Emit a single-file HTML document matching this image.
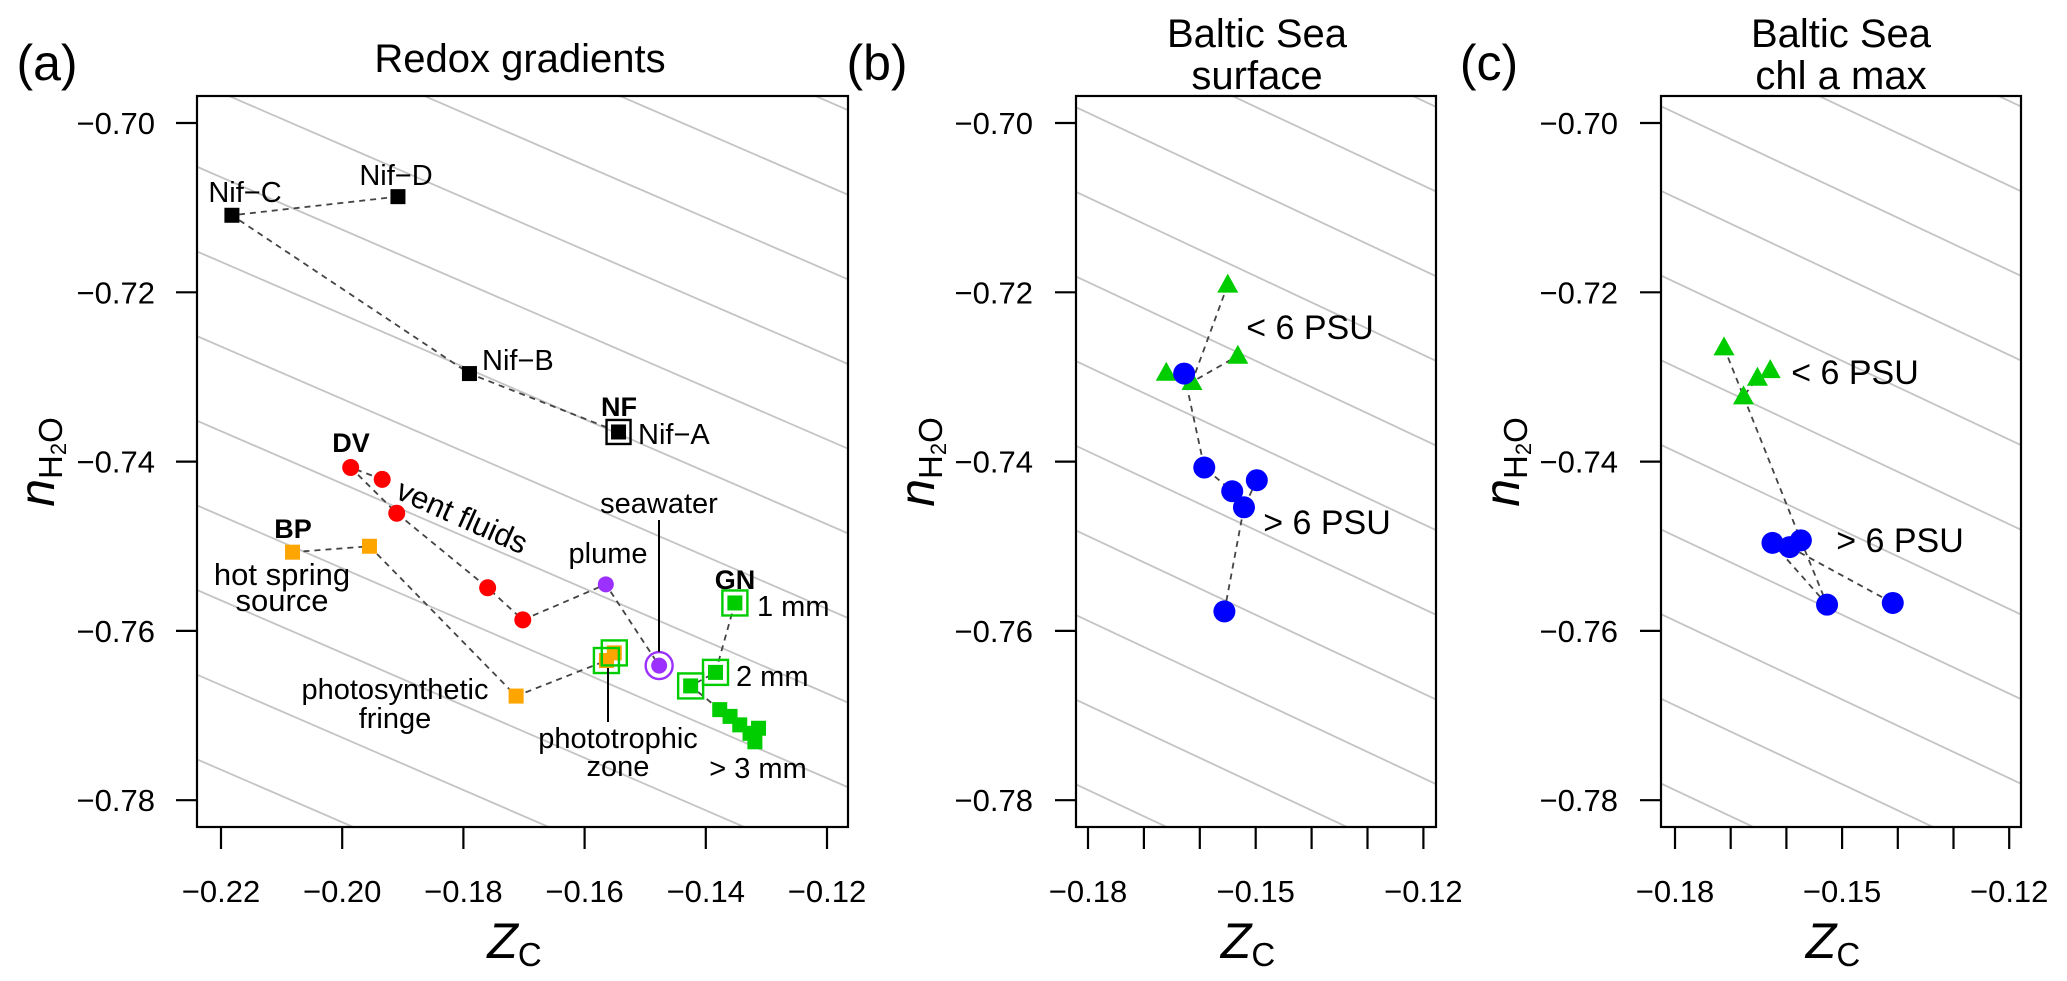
<!DOCTYPE html>
<html><head><meta charset="utf-8"><style>
html,body{margin:0;padding:0;background:#fff;overflow:hidden;width:2067px;height:981px;}
svg{display:block;font-family:"Liberation Sans",sans-serif;}
</style></head><body>
<svg id="fig" xmlns="http://www.w3.org/2000/svg" width="2067" height="981" viewBox="0 0 2067 981">
<defs>
<clipPath id="clipA"><rect x="197" y="96" width="651" height="731"/></clipPath>
<clipPath id="clipB"><rect x="1076" y="96" width="360" height="731"/></clipPath>
<clipPath id="clipC"><rect x="1661" y="96" width="360" height="731"/></clipPath>
</defs>
<g id="root"></g>
</svg>
<script>
// ---- data ----
const yTicks = [-0.70, -0.72, -0.74, -0.76, -0.78];
const yTickLabels = ["\u22120.70", "\u22120.72", "\u22120.74", "\u22120.76", "\u22120.78"];
const xTicksA = [-0.22, -0.20, -0.18, -0.16, -0.14, -0.12];
const xTickLabelsA = ["\u22120.22", "\u22120.20", "\u22120.18", "\u22120.16", "\u22120.14", "\u22120.12"];
const xTicksBC = [-0.18, -0.17, -0.16, -0.15, -0.14, -0.13, -0.12];
const xTickLabelsBC = ["\u22120.18", "", "", "\u22120.15", "", "", "\u22120.12"];
const gridOffsets = [-0.7746];
const gridSlope = -0.31;

// panel a
const nifZ = [-0.1908, -0.2182, -0.1790, -0.1544];
const nifN = [-0.7087, -0.7109, -0.7296, -0.7365];
const ventZ = [-0.1934, -0.1986, -0.1910, -0.1760, -0.1702];
const ventN = [-0.7421, -0.7407, -0.7461, -0.7549, -0.7587];
const plumeZ = [-0.1565, -0.1477];
const plumeN = [-0.7545, -0.7641];
const springZ = [-0.2082, -0.1955, -0.1713, -0.1564, -0.1551];
const springN = [-0.7507, -0.7500, -0.7677, -0.7635, -0.7626];
const gnZ = [-0.1352, -0.1384, -0.1425, -0.1377, -0.1360, -0.1344, -0.1327, -0.1319, -0.1313];
const gnN = [-0.7567, -0.7649, -0.7665, -0.7693, -0.7701, -0.7711, -0.7721, -0.7731, -0.7715];
// panel b
const bTriZ = [-0.1550, -0.1614, -0.1532, -0.1660];
const bTriN = [-0.7191, -0.7306, -0.7275, -0.7295];
const bDotZ = [-0.1628, -0.1592, -0.1542, -0.1521, -0.1556, -0.1498];
const bDotN = [-0.7296, -0.7407, -0.7435, -0.7454, -0.7577, -0.7422];
// panel c
const cTriZ = [-0.1712, -0.1677, -0.1652, -0.1629];
const cTriN = [-0.7265, -0.7323, -0.7301, -0.7292];
const cDotZ = [-0.1625, -0.1594, -0.1574, -0.1527, -0.1409];
const cDotN = [-0.7496, -0.7501, -0.7493, -0.7569, -0.7567];

// ---- helpers ----
const NS = "http://www.w3.org/2000/svg";
const root = document.getElementById("root");
function mk(tag, attrs, parent, text) {
  const e = document.createElementNS(NS, tag);
  for (const k in attrs) e.setAttribute(k, attrs[k]);
  if (text !== undefined) e.textContent = text;
  (parent || root).appendChild(e);
  return e;
}
const Y = n => 123 + (-0.70 - n) * 8465;
const panels = {
  a: {L:197, R:848, T:96, B:827, X: z => 221 + (z + 0.22) * 6060, clip:"clipA", xt:xTicksA, xl:xTickLabelsA, ylabR:155, ylabX:40},
  b: {L:1076, R:1436, T:96, B:827, X: z => 1088 + (z + 0.18) * 5590, clip:"clipB", xt:xTicksBC, xl:xTickLabelsBC, ylabR:1033, ylabX:920},
  c: {L:1661, R:2021, T:96, B:827, X: z => 1675 + (z + 0.18) * 5570, clip:"clipC", xt:xTicksBC, xl:xTickLabelsBC, ylabR:1618, ylabX:1505}
};

for (const key of ["a","b","c"]) {
  const p = panels[key];
  const g = mk("g", {}, root);
  
  
  const gg = mk("g", {"clip-path": "url(#" + p.clip + ")"}, g);
  
  
  for (let k = -15; k <= 25; k++) {
    const c = gridOffsets[0] + k * 0.01;
    const z1 = -0.30, z2 = -0.05;
    const ln = mk("line", {x1:p.X(z1), y1:Y(gridSlope*z1 + c), x2:p.X(z2), y2:Y(gridSlope*z2 + c), stroke:"#c4c4c4", "stroke-width":1.8}, gg);
    
    
  }
  const fr = mk("rect", {x:p.L, y:p.T, width:p.R-p.L, height:p.B-p.T, fill:"none", stroke:"#000", "stroke-width":2.2}, g);
  
  
  yTicks.forEach((v, i) => {
    const t = mk("line", {x1:p.L-21, x2:p.L, y1:Y(v), y2:Y(v), stroke:"#000", "stroke-width":2.2}, g);
    
    
    const tl = mk("text", {x:p.ylabR, y:Y(v)+11, "text-anchor":"end", "font-size":31}, g, yTickLabels[i]);
    
    
  });
  p.xt.forEach((v, i) => {
    const t = mk("line", {x1:p.X(v), x2:p.X(v), y1:p.B, y2:p.B+22, stroke:"#000", "stroke-width":2.2}, g);
    
    
    if (p.xl[i]) {
      const tl = mk("text", {x:p.X(v), y:902, "text-anchor":"middle", "font-size":31}, g, p.xl[i]);
      
      
    }
  });
  const xt = mk("text", {x:(p.L+p.R)/2 - 8, y:958, "text-anchor":"middle", "font-size":50}, g);
  
  
  mk("tspan", {"font-style":"italic"}, xt, "Z");
  mk("tspan", {"font-size":33, dy:8}, xt, "C");
  const yt = mk("text", {x:0, y:0, "text-anchor":"middle", "font-size":50, transform:"translate(" + (p.ylabX+14) + ",462) rotate(-90)"}, g);
  
  
  mk("tspan", {"font-style":"italic"}, yt, "n");
  mk("tspan", {"font-size":33, dy:8}, yt, "H");
  mk("tspan", {"font-size":22, dy:4}, yt, "2");
  mk("tspan", {"font-size":33, dy:-4}, yt, "O");
}

// ---- marks ----
function dash(p, zs, ns, order, name) {
  const pts = order.map(i => p.X(zs[i]) + "," + Y(ns[i])).join(" ");
  const l = mk("polyline", {points:pts, fill:"none", stroke:"#444", "stroke-width":1.8, "stroke-dasharray":"6,5"});
  
  
}
function sq(p, z, n, s, fill, name) {
  const r = mk("rect", {x:p.X(z)-s/2, y:Y(n)-s/2, width:s, height:s, fill:fill});
  
  
}
function osq(p, z, n, s, col, name) {
  const r = mk("rect", {x:p.X(z)-s/2, y:Y(n)-s/2, width:s, height:s, fill:"none", stroke:col, "stroke-width":2.4});
  
  
}
function dot(p, z, n, r, fill, name) {
  const c = mk("circle", {cx:p.X(z), cy:Y(n), r:r, fill:fill});
  
  
}
function tri(p, z, n, name) {
  const x = p.X(z), y = Y(n);
  const t = mk("polygon", {points:(x-10.5)+","+(y+8)+" "+(x+10.5)+","+(y+8)+" "+x+","+(y-11), fill:"#00cd00"});
  
  
}
function label(x, y, txt, size, opts) {
  const a = Object.assign({x:x, y:y, "font-size":size, "text-anchor":"middle"}, opts || {});
  const t = mk("text", a, root, txt);
  
  
  return t;
}

const A = panels.a, B = panels.b, C = panels.c;
dash(A, nifZ, nifN, [0,1,2,3], "nif-connector");
dash(A, ventZ, ventN, [0,1,2,3,4], "vent-connector");
dash(A, [ventZ[4], plumeZ[0], plumeZ[1]], [ventN[4], plumeN[0], plumeN[1]], [0,1,2], "plume-connector");
dash(A, springZ, springN, [0,1,2,3,4], "hot-spring-connector");
dash(A, gnZ, gnN, [0,1,2,3,4,5,6,7], "gn-connector");
nifZ.forEach((z,i)=>sq(A, z, nifN[i], 15, "#000", "nif-point"));
osq(A, nifZ[3], nifN[3], 24, "#000", "nf-outline");
ventZ.forEach((z,i)=>dot(A, z, ventN[i], 8.5, "#ff0000", "vent-point"));
dot(A, plumeZ[0], plumeN[0], 8, "#9b30ff", "plume-point");
dot(A, plumeZ[1], plumeN[1], 8, "#9b30ff", "seawater-point");
mk("circle", {cx:A.X(plumeZ[1]), cy:Y(plumeN[1]), r:13.5, fill:"none", stroke:"#9b30ff", "stroke-width":2.4});
springZ.forEach((z,i)=>sq(A, z, springN[i], 15, "#ffa500", "hot-spring-point"));
osq(A, springZ[3], springN[3], 25, "#00cd00", "phototrophic-outline");
osq(A, springZ[4], springN[4], 25, "#00cd00", "phototrophic-outline");
gnZ.forEach((z,i)=>sq(A, z, gnN[i], 15, "#00cd00", "gn-point"));
for (let i = 0; i < 3; i++) osq(A, gnZ[i], gnN[i], 25, "#00cd00", "gn-outline");
mk("line", {x1:659, y1:520, x2:659, y2:Y(plumeN[1])-14, stroke:"#000", "stroke-width":2});
mk("line", {x1:608, y1:668, x2:608, y2:722, stroke:"#000", "stroke-width":2});

label(245, 202, "Nif\u2212C", 29);
label(396, 185, "Nif\u2212D", 29);
label(482, 370, "Nif\u2212B", 29, {"text-anchor":"start"});
label(619, 416, "NF", 27, {"font-weight":"bold"});
label(638, 444, "Nif\u2212A", 29, {"text-anchor":"start"});
label(351, 452, "DV", 27, {"font-weight":"bold"});
label(462, 527, "vent fluids", 31, {transform:"rotate(24 462 517)"});
label(293, 538, "BP", 27, {"font-weight":"bold"});
label(282, 585, "hot spring", 31);
label(282, 611, "source", 31);
label(608, 563, "plume", 29);
label(659, 513, "seawater", 29);
label(735, 589, "GN", 27, {"font-weight":"bold"});
label(757, 616, "1 mm", 29, {"text-anchor":"start"});
label(736, 686, "2 mm", 29, {"text-anchor":"start"});
label(758, 778, "> 3 mm", 29);
label(395, 699, "photosynthetic", 29);
label(395, 728, "fringe", 29);
label(618, 748, "phototrophic", 29);
label(618, 776, "zone", 29);

dash(B, bTriZ, bTriN, [0,1,2], "b-triangle-connector");
dash(B, bDotZ, bDotN, [0,1,2,3,4], "b-circle-connector");
dash(B, bDotZ, bDotN, [5,3], "b-circle-connector");
bTriZ.forEach((z,i)=>tri(B, z, bTriN[i], "b-triangle-point"));
bDotZ.forEach((z,i)=>dot(B, z, bDotN[i], 11, "#0000ff", "b-circle-point"));
label(1310, 339, "< 6 PSU", 34);
label(1327, 534, "> 6 PSU", 34);

dash(C, cTriZ, cTriN, [0,1,2], "c-triangle-connector");
dash(C, [cTriZ[1], cDotZ[2], cDotZ[3]], [cTriN[1], cDotN[2], cDotN[3]], [0,1,2], "c-link-connector");
dash(C, cDotZ, cDotN, [0,3], "c-circle-connector");
dash(C, cDotZ, cDotN, [1,4], "c-circle-connector");
cTriZ.forEach((z,i)=>tri(C, z, cTriN[i], "c-triangle-point"));
cDotZ.forEach((z,i)=>dot(C, z, cDotN[i], 11, "#0000ff", "c-circle-point"));
label(1855, 384, "< 6 PSU", 34);
label(1900, 552, "> 6 PSU", 34);

label(47, 80, "(a)", 50);
label(520, 72, "Redox gradients", 40);
label(877, 80, "(b)", 50);
label(1257, 47, "Baltic Sea", 40);
label(1257, 89, "surface", 40);
label(1489, 80, "(c)", 50);
label(1841, 47, "Baltic Sea", 40);
label(1841, 89, "chl a max", 40);
</script>
</body></html>
